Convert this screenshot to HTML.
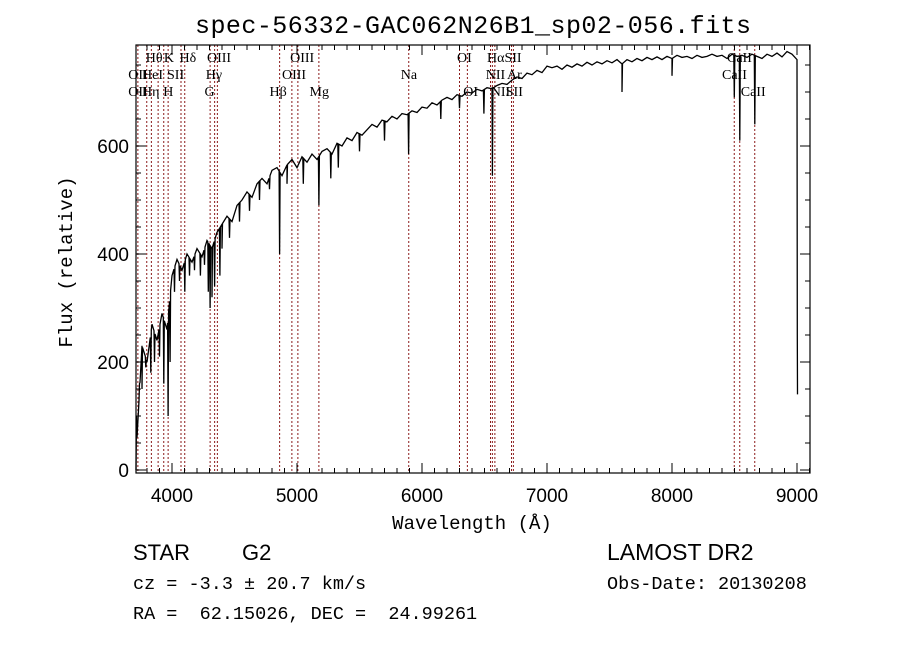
<!DOCTYPE html>
<html><head><meta charset="utf-8"><style>
body{margin:0;background:#fff;}
svg{display:block;}
</style></head><body>
<svg id="chart" width="900" height="649" viewBox="0 0 900 649" xmlns="http://www.w3.org/2000/svg">
<rect width="900" height="649" fill="#fff"/>
<text x="473" y="33" text-anchor="middle" font-family="Liberation Mono, monospace" font-size="25" fill="#000" textLength="556">spec-56332-GAC062N26B1_sp02-056.fits</text>
<g id="lines"></g>
<g id="labels" font-family="Liberation Serif, serif" font-size="14" fill="#000"></g>
<polyline id="spec" fill="none" stroke="#000" stroke-width="1.3"/>
<g id="axes"></g>
<text x="472" y="529" text-anchor="middle" font-family="Liberation Mono, monospace" font-size="19">Wavelength (Å)</text>
<text transform="translate(72,262) rotate(-90)" text-anchor="middle" font-family="Liberation Mono, monospace" font-size="19">Flux (relative)</text>
<g font-family="Liberation Sans, sans-serif" fill="#000">
<text x="133" y="560" font-size="22">STAR</text>
<text x="242" y="560" font-size="22">G2</text>
<text x="607" y="560" font-size="23">LAMOST DR2</text>
</g>
<g font-family="Liberation Mono, monospace" font-size="18.5" fill="#000">
<text x="133" y="589">cz = -3.3 ± 20.7 km/s</text>
<text x="133" y="619" xml:space="preserve">RA =  62.15026, DEC =  24.99261</text>
<text x="607" y="589">Obs-Date: 20130208</text>
</g>
</svg>
<script>
const xTicks=[4000,5000,6000,7000,8000,9000];
const yTicks=[0,200,400,600];
const contStart=3720, contStep=40;
const contFlux=[60,230,200,270,240,290,260,360,390,370,400,385,410,395,425,410,440,455,470,460,490,500,515,505,530,540,530,555,560,545,565,575,560,580,570,585,575,590,595,585,605,600,615,610,625,620,630,640,635,648,645,655,650,660,658,665,662,672,670,680,676,685,690,686,695,692,700,698,705,702,708,706,712,716,714,722,728,725,735,732,740,736,748,745,748,742,750,746,752,748,755,750,756,752,758,754,760,752,760,756,762,758,764,760,765,760,766,762,768,764,766,762,768,764,766,770,766,768,762,770,766,768,764,770,766,762,770,766,772,765,775,770,760];
const dipWave=[3740,3760,3790,3830,3860,3900,3934,3969,3985,4020,4060,4102,4140,4180,4227,4260,4290,4305,4320,4341,4383,4400,4460,4540,4620,4700,4780,4861,4920,5050,5175,5270,5330,5500,5700,5893,6150,6300,6495,6563,7600,8000,8498,8542,8662];
const dipFlux=[160,150,190,180,200,210,160,100,200,330,350,330,360,370,360,380,330,300,320,340,360,410,430,460,480,500,520,400,530,530,490,540,560,590,610,585,650,670,660,545,700,730,690,610,640];
const edgeWave=[3712,3716,9002,9004];
const edgeFlux=[0,100,250,140];
const markWave=[3727,3798,3835,3889,3934,3969,4072,4102,4305,4341,4363,4861,4959,5007,5175,5894,6300,6363,6548,6563,6583,6716,6731,8498,8542,8662];
const labText=["Hθ","K","Hδ","OIII","OIII","OI","HαSII","CaII","OII","HeI","SII","Hγ","OIII","Na","NII","Ar","CaII","OII","Hη","H","G","Hβ","Mg","OI","NII","SII","CaII"];
const labWave=[3790,3935,4060,4280,4945,6280,6520,8440,3650,3760,3960,4270,4880,5830,6510,6680,8400,3650,3760,3930,4260,4780,5100,6330,6550,6670,8550];
const labRow=[0,0,0,0,0,0,0,0,1,1,1,1,1,1,1,1,1,2,2,2,2,2,2,2,2,2,2];

const L=136,R=810,T=45,B=473;
const X=w=>172+(w-4000)*0.125;
const Y=f=>470-f*0.54;
const NS="http://www.w3.org/2000/svg";
function mk(tag,attrs,parent){const e=document.createElementNS(NS,tag);for(const k in attrs)e.setAttribute(k,attrs[k]);parent.appendChild(e);return e;}

let pts=[];
contFlux.forEach((f,i)=>pts.push([contStart+contStep*i,f]));
dipWave.forEach((w,i)=>{pts.push([w-4,null]);pts.push([w,dipFlux[i]]);pts.push([w+4,null]);});
edgeWave.forEach((w,i)=>pts.push([w,edgeFlux[i]]));
pts.sort((a,b)=>a[0]-b[0]);
const cont=w=>{const i=Math.min(contFlux.length-2,Math.max(0,Math.floor((w-contStart)/contStep)));const t=(w-contStart-i*contStep)/contStep;return contFlux[i]+(contFlux[i+1]-contFlux[i])*Math.min(1,Math.max(0,t));};
pts=pts.map(p=>[p[0],p[1]===null?cont(p[0]):p[1]]);
const spec=document.getElementById('spec');
spec.setAttribute('points',pts.map(p=>X(p[0]).toFixed(1)+','+Y(p[1]).toFixed(1)).join(' '));

const lg=document.getElementById('lines');
markWave.forEach(w=>{
  const l=mk('line',{x1:X(w),x2:X(w),y1:T,y2:B,stroke:'#8b1a1a','stroke-width':1,'stroke-dasharray':'2,2'},lg);
  
  
});
const lb=document.getElementById('labels');
const rowY=[62,79,96];
labText.forEach((t,i)=>{
  const e=mk('text',{x:X(labWave[i]),y:rowY[labRow[i]]},lb);
  e.textContent=t;
  
  
});

const ax=document.getElementById('axes');
const fr=mk('rect',{x:L,y:T,width:R-L,height:B-T,fill:'none',stroke:'#000','stroke-width':1.2},ax);


for(let w=3800;w<=9100;w+=100){
  const major=w%1000===0;const len=major?10:5;const x=X(w);
  if(x<L||x>R)continue;
  mk('line',{x1:x,x2:x,y1:B,y2:B-len,stroke:'#000'},ax);
  mk('line',{x1:x,x2:x,y1:T,y2:T+len,stroke:'#000'},ax);
}
for(let f=0;f<=780;f+=50){
  const major=f%200===0;const len=major?10:5;const y=Y(f);
  mk('line',{x1:L,x2:L+len,y1:y,y2:y,stroke:'#000'},ax);
  mk('line',{x1:R,x2:R-len,y1:y,y2:y,stroke:'#000'},ax);
}
xTicks.forEach(w=>{
  const t=mk('text',{x:X(w),y:502,'text-anchor':'middle','font-family':'Liberation Sans, sans-serif','font-size':19},ax);
  t.textContent=w;
  
  
});
yTicks.forEach(f=>{
  const t=mk('text',{x:129,y:Y(f)+7,'text-anchor':'end','font-family':'Liberation Sans, sans-serif','font-size':19},ax);
  t.textContent=f;
  
  
});
</script>
</body></html>
